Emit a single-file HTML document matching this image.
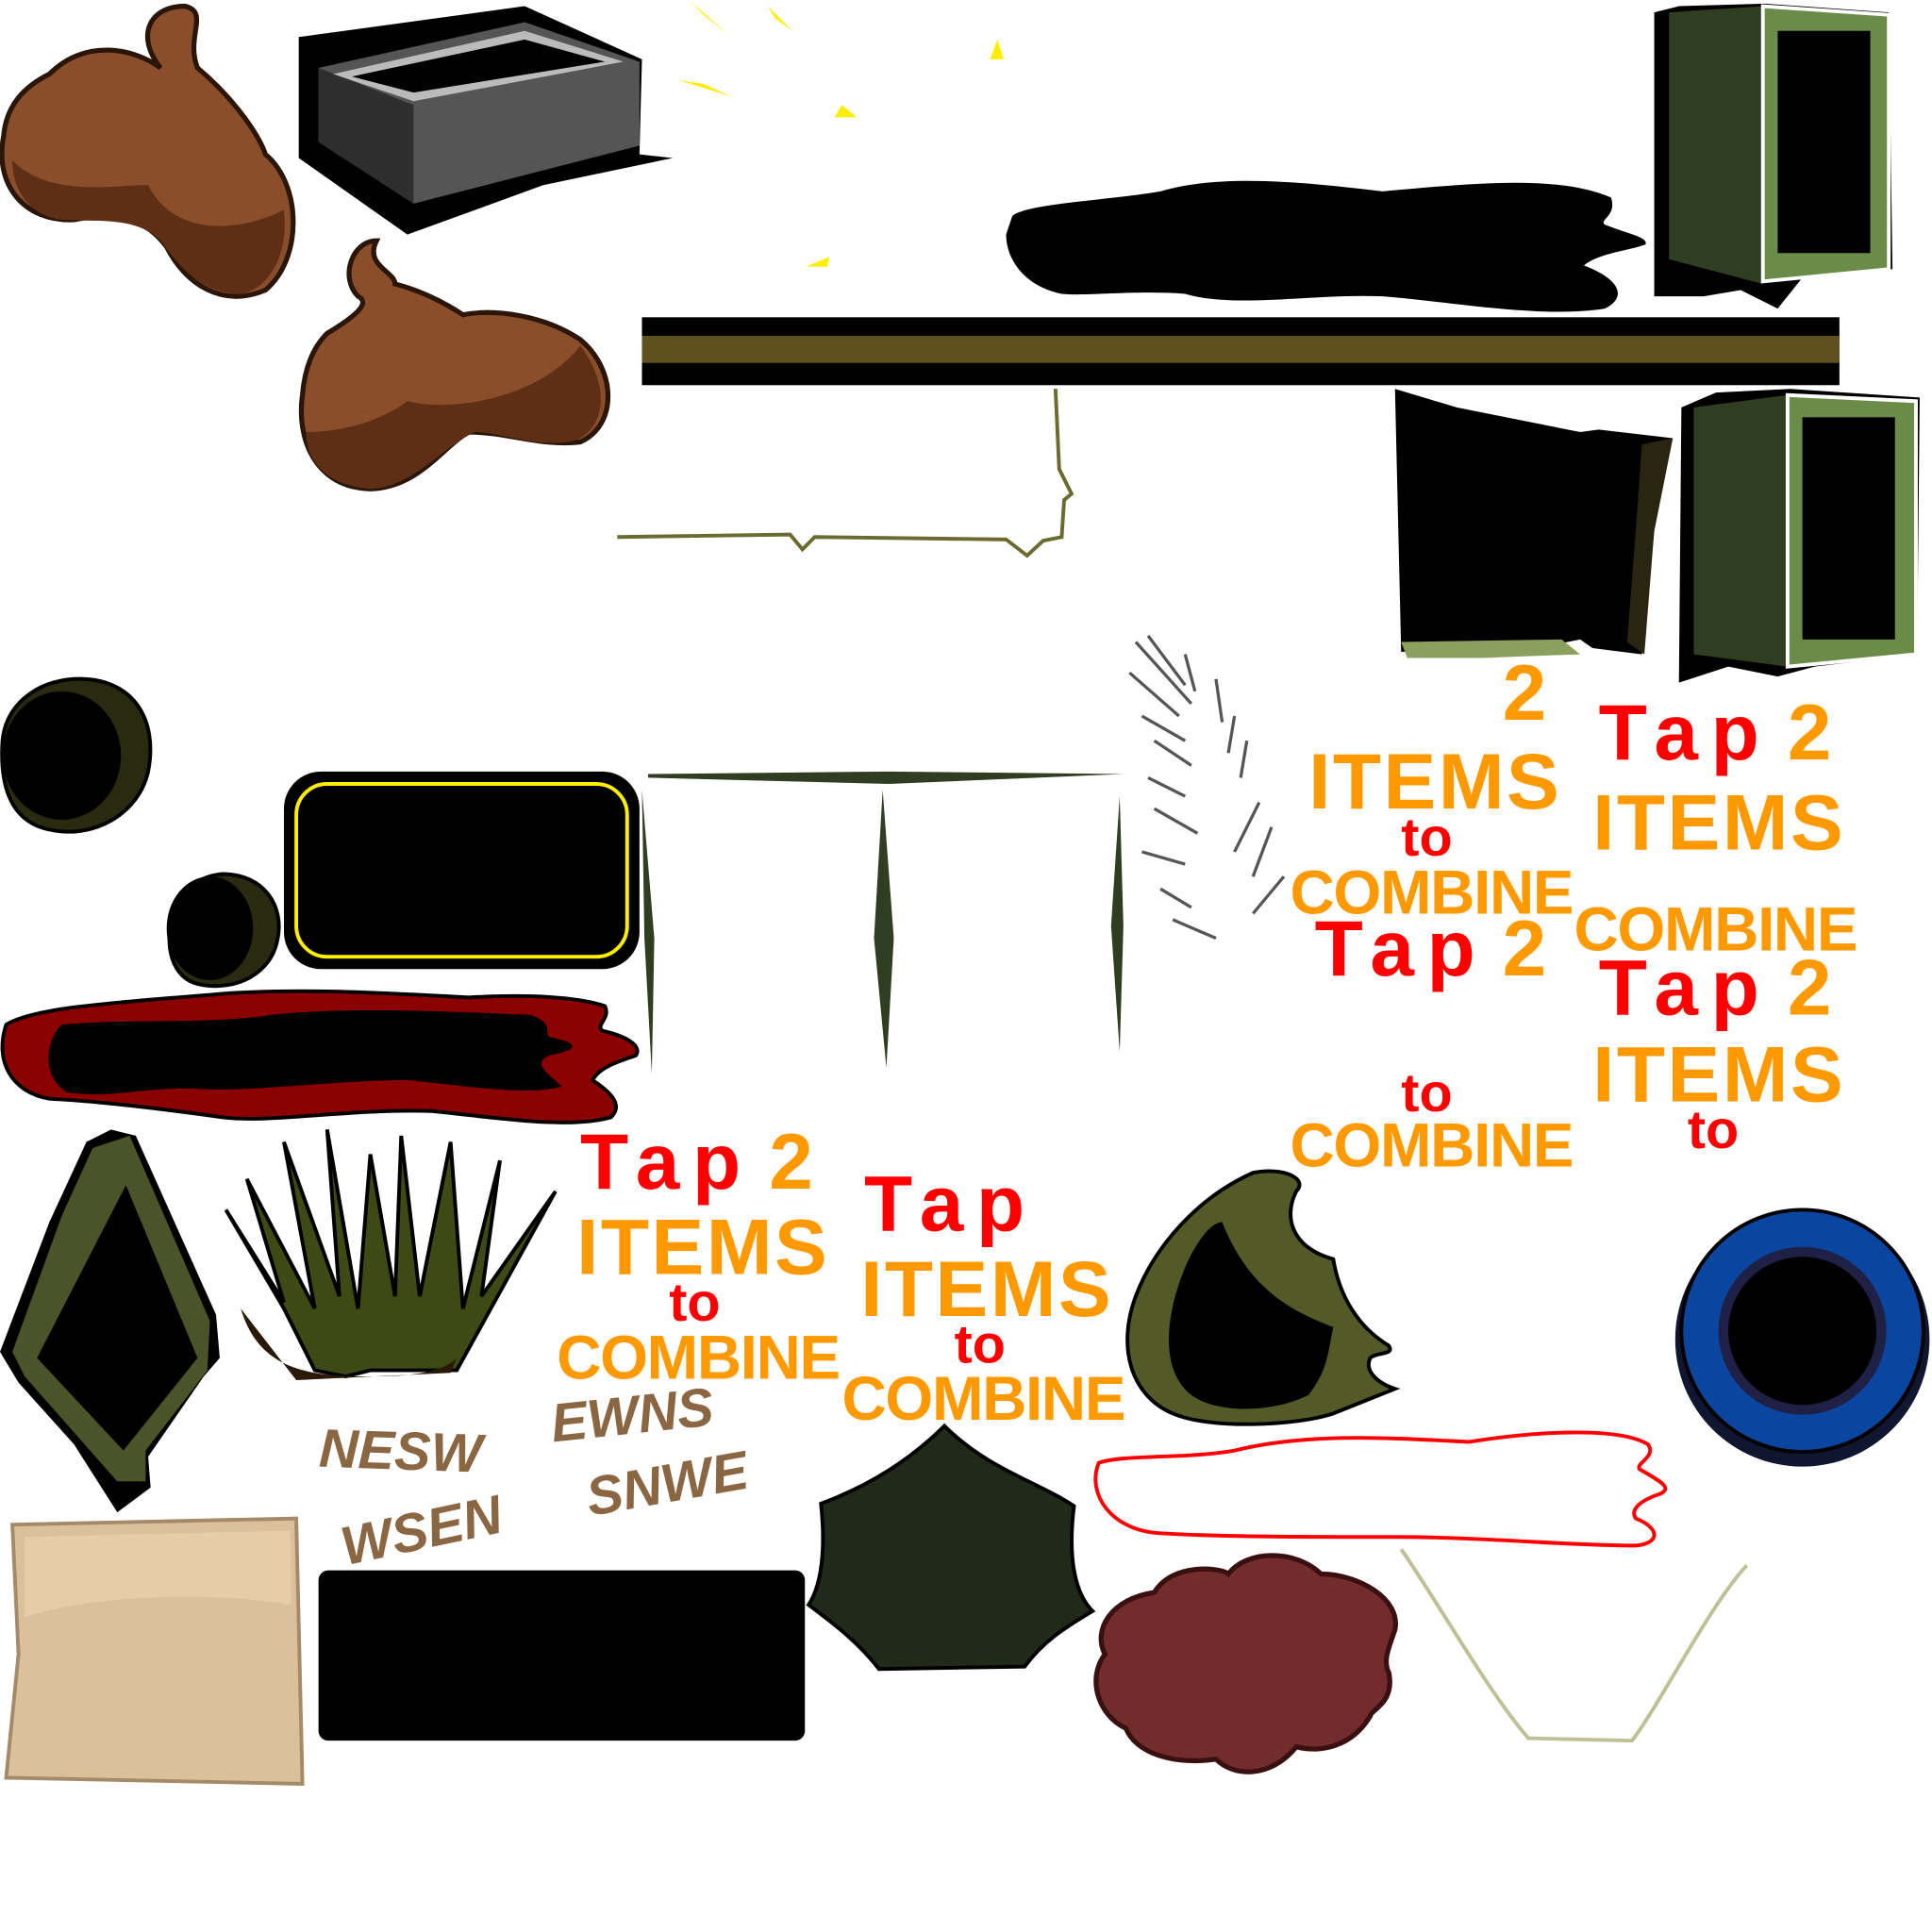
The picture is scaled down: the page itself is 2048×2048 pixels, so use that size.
<!DOCTYPE html>
<html><head><meta charset="utf-8"><style>
html,body{margin:0;padding:0;background:#fff;}
svg{display:block}
.t{font-family:"Liberation Sans",sans-serif;font-weight:bold;}
.r{fill:#f00}.o{fill:#ff9900}
.d{font-family:"Liberation Sans",sans-serif;font-weight:bold;fill:#8a6642;font-size:44px;font-style:italic}
</style></head><body>
<svg width="2048" height="2048" viewBox="0 0 1565 1565" xmlns="http://www.w3.org/2000/svg">
<!-- poop 1 -->
<path d="M40 60 C70 30 110 40 130 55 C110 30 120 5 150 5 C170 10 150 30 160 55 C190 80 210 110 215 125 C245 150 245 210 215 235 C180 250 150 230 135 200 C120 180 100 170 60 178 C20 180 -5 150 3 110 C5 85 20 70 40 60Z" fill="#8b4e2b" stroke="#2a1608" stroke-width="4"/>
<path d="M10 130 C40 160 90 150 120 150 C140 190 190 190 230 170 C235 215 210 240 190 238 C160 235 145 215 130 195 C110 175 80 180 50 178 C25 175 10 155 10 130Z" fill="#5e2f15"/>
<!-- poop 2 -->
<path d="M265 270 C290 255 300 245 290 240 C275 225 285 195 305 195 C295 215 320 220 320 230 C340 235 360 245 375 255 C400 250 440 255 470 275 C500 300 500 345 470 358 C440 362 410 350 380 350 C360 360 340 395 300 396 C255 395 240 355 245 320 C247 295 255 280 265 270Z" fill="#8b4e2b" stroke="#2a1608" stroke-width="4"/>
<path d="M248 350 C280 350 310 340 330 325 C370 335 440 320 470 280 C500 320 485 355 460 358 C430 362 405 350 385 350 C360 360 335 395 300 396 C265 393 248 375 248 350Z" fill="#5e2f15"/>
<!-- gray box -->
<path d="M242 30 L425 5 L520 48 L518 125 L545 128 L440 150 L330 190 L242 128Z" fill="#000"/>
<path d="M258 55 L425 18 L518 50 L518 118 L335 165 L258 115Z" fill="#555"/>
<path d="M258 55 L335 85 L335 165 L258 115Z" fill="#2e2e2e"/>
<path d="M270 60 L425 25 L505 50 L335 82Z" fill="#bbb"/>
<path d="M285 62 L425 32 L490 50 L335 75Z" fill="#000"/>
<!-- yellow bits -->
<g fill="#ffee00"><path d="M558 0 L590 28 L570 12Z"/><path d="M622 5 L642 25 L628 15Z"/><path d="M550 65 L592 78 L570 68Z"/><path d="M802 48 L808 32 L813 48Z"/><path d="M676 95 L694 95 L682 85Z"/><path d="M653 216 L672 208 L670 216Z"/></g>
<!-- black puddle -->
<path d="M820 175 C830 165 900 162 940 155 C990 140 1060 148 1120 155 C1180 150 1260 140 1305 160 C1310 175 1295 178 1300 182 C1320 190 1335 192 1333 198 C1320 203 1295 205 1283 215 C1310 225 1320 240 1300 250 C1250 258 1180 245 1120 240 C1060 238 1000 250 960 238 C920 235 880 240 860 238 C830 232 815 210 815 190Z" fill="#000"/>
<!-- green frame 1 -->
<path d="M1340 10 L1360 5 L1430 3 L1530 10 L1533 218 L1460 225 L1440 250 L1410 235 L1380 240 L1340 240Z" fill="#000"/>
<path d="M1352 10 L1428 5 L1428 230 L1352 210Z" fill="#2f3d20"/>
<path d="M1428 5 L1530 12 L1530 218 L1428 228Z" fill="#6b8c48" stroke="#fff" stroke-width="3"/>
<rect x="1440" y="25" width="75" height="180" fill="#000"/>
<!-- horizontal bar -->
<rect x="520" y="257" width="970" height="55" fill="#000"/>
<rect x="520" y="272" width="970" height="22" fill="#5e4f1e"/>
<!-- thin olive line -->
<path d="M500 435 L640 433 L650 445 L660 435 L815 437 L832 450 L845 438 L860 435 L862 405 L868 400 L858 380 L855 315" fill="none" stroke="#6b6b30" stroke-width="3"/>
<!-- dark frame -->
<path d="M1130 315 L1180 330 L1280 350 L1295 348 L1355 355 L1340 430 L1330 530 L1290 525 L1280 518 L1260 522 L1135 528Z" fill="#000"/>
<path d="M1330 360 L1355 355 L1340 430 L1332 530 L1318 520 L1325 430Z" fill="#2a2510"/>
<path d="M1135 520 L1265 518 L1280 530 L1200 533 L1140 533Z" fill="#8aa05c"/>
<!-- green frame 2 -->
<path d="M1362 330 L1390 318 L1450 315 L1555 322 L1553 530 L1470 540 L1440 548 L1400 540 L1360 553Z" fill="#000"/>
<path d="M1372 330 L1448 320 L1448 540 L1372 530Z" fill="#2f3d20"/>
<path d="M1448 320 L1552 325 L1552 530 L1448 540Z" fill="#6b8c48" stroke="#fff" stroke-width="3"/>
<rect x="1460" y="338" width="75" height="180" fill="#000"/>
<!-- circles -->
<path d="M60 550 C110 548 128 585 120 625 C112 660 75 680 40 672 C5 665 0 630 2 600 C5 570 30 552 60 550Z" fill="#2a2a10" stroke="#000" stroke-width="3"/>
<ellipse cx="50" cy="612" rx="48" ry="52" fill="#000"/>
<path d="M180 708 C215 708 230 735 225 760 C220 790 190 802 165 798 C140 795 135 770 138 750 C142 725 158 710 180 708Z" fill="#2a2a10" stroke="#000" stroke-width="3"/>
<ellipse cx="170" cy="752" rx="35" ry="42" fill="#000"/>
<!-- yellow bordered rect -->
<rect x="230" y="625" width="288" height="160" rx="30" fill="#000"/>
<rect x="240" y="635" width="268" height="140" rx="25" fill="none" stroke="#ffee00" stroke-width="3"/>
<!-- green lines -->
<g fill="#2f3d20"><path d="M525 627 L720 625 L910 627 L720 635 L525 630Z"/><path d="M520 640 L530 760 L528 870 L522 760Z"/><path d="M715 640 L708 760 L718 865 L724 760Z"/><path d="M907 645 L900 750 L907 852 L910 750Z"/></g>
<!-- feather -->
<g stroke="#555" stroke-width="2.5" fill="none"><path d="M920 520 L965 570"/><path d="M930 515 L960 555"/><path d="M915 545 L955 580"/><path d="M925 580 L960 600"/><path d="M935 600 L965 620"/><path d="M930 630 L960 645"/><path d="M935 655 L970 675"/><path d="M925 690 L960 700"/><path d="M940 720 L965 735"/><path d="M950 745 L985 760"/><path d="M960 530 L968 560"/><path d="M985 550 L990 585"/><path d="M1000 580 L995 610"/><path d="M1010 600 L1005 630"/><path d="M1020 650 L1000 690"/><path d="M1030 670 L1015 710"/><path d="M1040 710 L1015 740"/></g>
<!-- texts -->
<g class="t">
<text x="470" y="963" font-size="64" class="r" textLength="130">Tap</text><text x="623" y="963" font-size="64" class="o">2</text>
<text x="467" y="1032" font-size="64" class="o" textLength="203">ITEMS</text>
<text x="542" y="1070" font-size="44" class="r">to</text>
<text x="451" y="1117" font-size="50" class="o" textLength="230">COMBINE</text>
<text x="700" y="997" font-size="64" class="r" textLength="130">Tap</text>
<text x="697" y="1066" font-size="64" class="o" textLength="203">ITEMS</text>
<text x="773" y="1104" font-size="44" class="r">to</text>
<text x="682" y="1150" font-size="50" class="o" textLength="230">COMBINE</text>
<text x="1217" y="583" font-size="64" class="o">2</text>
<text x="1060" y="655" font-size="64" class="o" textLength="203">ITEMS</text>
<text x="1135" y="693" font-size="44" class="r">to</text>
<text x="1045" y="740" font-size="50" class="o" textLength="230">COMBINE</text>
<text x="1065" y="790" font-size="64" class="r" textLength="130">Tap</text><text x="1217" y="790" font-size="64" class="o">2</text>
<text x="1135" y="900" font-size="44" class="r">to</text>
<text x="1045" y="945" font-size="50" class="o" textLength="230">COMBINE</text>
<text x="1295" y="615" font-size="64" class="r" textLength="130">Tap</text><text x="1448" y="615" font-size="64" class="o">2</text>
<text x="1290" y="688" font-size="64" class="o" textLength="203">ITEMS</text>
<text x="1275" y="770" font-size="50" class="o" textLength="230">COMBINE</text>
<text x="1295" y="822" font-size="64" class="r" textLength="130">Tap</text><text x="1448" y="822" font-size="64" class="o">2</text>
<text x="1290" y="892" font-size="64" class="o" textLength="203">ITEMS</text>
<text x="1367" y="930" font-size="44" class="r">to</text>
</g>
<!-- red puddle -->
<path d="M5 830 C30 815 100 812 180 805 C250 800 320 805 380 808 C430 805 470 808 490 815 C495 825 482 830 488 835 C510 840 520 848 515 855 C500 860 485 865 480 875 C495 885 505 895 495 905 C460 915 400 905 350 900 C280 898 220 910 180 905 C130 898 80 892 40 890 C10 885 -5 860 5 830Z" fill="#8b0000" stroke="#000" stroke-width="3"/>
<path d="M50 830 C100 825 170 830 220 822 C290 815 370 820 430 822 C450 830 440 835 445 840 C470 845 470 850 445 855 C430 862 445 870 455 880 C430 888 380 880 330 875 C270 875 200 885 160 882 C120 880 90 890 55 885 C35 875 35 845 50 830Z" fill="#000"/>
<!-- green diamond -->
<path d="M70 925 L90 915 L110 920 L175 1065 L178 1100 L165 1115 L120 1180 L122 1205 L95 1225 L60 1170 L15 1120 L0 1095 L40 990Z" fill="#000"/>
<path d="M75 930 L105 920 L170 1070 L168 1110 L118 1175 L118 1200 L95 1200 L20 1115 L10 1095 L50 985Z" fill="#4a5428"/>
<path d="M102 960 L160 1100 L100 1175 L30 1100Z" fill="#000"/>
<!-- grass -->
<g fill="#3d4a14" stroke="#000" stroke-width="3">
<path d="M183 980 L230 1060 L255 1110 L280 1115 L300 1110 L340 1110 L370 1110 L450 965 L390 1050 L405 940 L375 1060 L365 925 L340 1050 L325 920 L320 1050 L300 935 L290 1060 L265 915 L275 1050 L230 925 L255 1060 L200 955 L230 1055Z"/>
</g>
<path d="M195 1060 C210 1110 250 1115 300 1115 C340 1115 360 1110 370 1100 L365 1112 L240 1118 Z" fill="#2a1a05"/>
<!-- direction text -->
<text x="258" y="1188" class="d" transform="rotate(2 258 1188)">NESW</text>
<text x="448" y="1168" class="d" transform="rotate(-6 448 1168)">EWNS</text>
<text x="478" y="1228" class="d" transform="rotate(-10 478 1228)">SNWE</text>
<text x="280" y="1268" class="d" transform="rotate(-12 280 1268)">WSEN</text>
<!-- bitten green shape -->
<path d="M1015 950 C1040 945 1060 955 1050 965 C1040 985 1045 1010 1080 1020 C1085 1050 1100 1075 1125 1090 C1130 1098 1115 1095 1110 1100 C1105 1110 1115 1120 1130 1125 L1080 1145 C1050 1155 980 1158 950 1145 C915 1130 905 1090 920 1050 C935 1010 970 970 1015 950Z" fill="#535a28" stroke="#000" stroke-width="3"/>
<path d="M990 990 C1010 1040 1040 1060 1080 1075 C1075 1100 1075 1110 1060 1130 C1030 1145 985 1145 965 1130 C940 1110 945 1070 955 1040 C965 1010 980 990 990 990Z" fill="#000"/>
<!-- blue ring -->
<circle cx="1460" cy="1085" r="103" fill="#111630"/>
<circle cx="1460" cy="1078" r="98" fill="#0a46a0" stroke="#000" stroke-width="3"/>
<circle cx="1460" cy="1078" r="68" fill="#1f2045"/>
<circle cx="1460" cy="1078" r="60" fill="#000"/>
<!-- red bone outline -->
<path d="M890 1185 C910 1178 960 1182 1000 1175 C1060 1160 1130 1165 1190 1168 C1240 1160 1310 1155 1335 1170 C1342 1180 1325 1185 1328 1190 C1345 1200 1355 1205 1345 1210 C1330 1215 1320 1222 1325 1230 C1345 1238 1345 1250 1325 1252 C1270 1252 1200 1245 1130 1245 C1060 1245 990 1245 940 1242 C900 1240 880 1210 890 1185Z" fill="none" stroke="#f00" stroke-width="3"/>
<!-- beige panel -->
<path d="M10 1235 L240 1230 L245 1445 L5 1440 L15 1340Z" fill="#dcc09c" stroke="#a48a68" stroke-width="3"/>
<path d="M20 1245 L235 1240 L236 1300 C180 1290 80 1290 20 1310Z" fill="#e6cda8"/>
<!-- black rect -->
<rect x="258" y="1272" width="394" height="138" rx="8" fill="#000"/>
<!-- dark green pentagon -->
<path d="M765 1155 C800 1190 840 1200 870 1220 C865 1260 870 1290 885 1305 C860 1320 845 1330 830 1350 L712 1352 C695 1330 675 1315 655 1300 C668 1280 668 1245 665 1218 C700 1205 735 1185 765 1155Z" fill="#1f2a18" stroke="#000" stroke-width="3"/>
<!-- maroon cloud -->
<path d="M935 1290 C950 1265 990 1270 995 1275 C1010 1255 1050 1255 1070 1275 C1100 1275 1135 1295 1130 1320 C1125 1335 1120 1345 1125 1355 C1130 1380 1110 1385 1110 1390 C1095 1415 1070 1420 1050 1415 C1030 1440 1000 1440 985 1425 C950 1430 920 1420 912 1400 C890 1390 880 1360 895 1340 C885 1320 900 1295 935 1290Z" fill="#732c2c" stroke="#3a0f0f" stroke-width="4"/>
<!-- beige V -->
<path d="M1135 1255 C1160 1290 1205 1370 1238 1408 L1322 1410 C1345 1380 1385 1300 1415 1268" fill="none" stroke="#bfc096" stroke-width="3"/>
</svg>
</body></html>
